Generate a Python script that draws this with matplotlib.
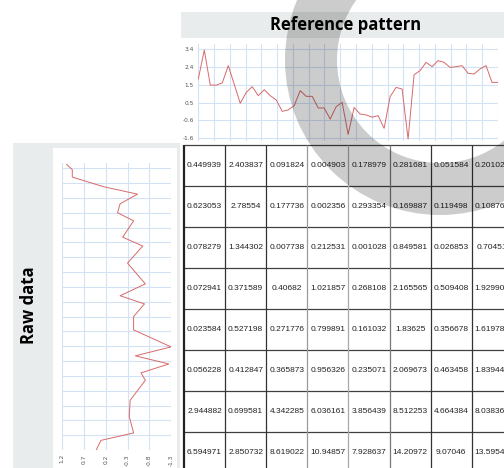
import numpy as np
import matplotlib
matplotlib.use("Agg")
import matplotlib.pyplot as plt
from matplotlib.patches import Rectangle, Wedge

W, H = 504, 468

# reference pattern (top chart), one value per step
ref_vals = [1.72, 3.34, 1.38, 1.38, 1.50, 2.47, 1.42, 0.36, 0.97, 1.29,
            0.79, 1.12, 0.79, 0.55, -0.09, -0.01, 0.23, 1.07, 0.75, 0.75,
            0.10, 0.10, -0.52, 0.17, 0.41, -1.38, 0.13, -0.24, -0.29, -0.42,
            -0.33, -1.04, 0.73, 1.25, 1.16, -1.64, 1.96, 2.19, 2.65, 2.41,
            2.75, 2.65, 2.37, 2.41, 2.47, 2.04, 2.00, 2.28, 2.47, 1.53, 1.53]
ref_ticks = [3.4, 2.4, 1.4, 0.4, -0.6, -1.6]
ref_ticklabels = ['3.4', '2.4', '1.5', '0.5', '-0.6', '-1.6']

# raw data (left chart, drawn rotated: time runs upward)
raw_t = [38.5, 37.8, 36.8, 35.5, 34.5, 33.2, 32.0, 30.9, 28.7, 27.5,
         25.2, 22.4, 20.8, 19.7, 18.0, 16.2, 13.9, 12.7, 11.6, 10.4,
         9.4, 6.7, 4.5, 2.3, 1.3, 0.0]
raw_v = [1.10, 0.97, 0.97, 0.25, -0.53, -0.13, -0.07, -0.44, -0.19, -0.65,
         -0.30, -0.71, -0.13, -0.69, -0.44, -0.44, -1.30, -0.48, -1.25, -0.61,
         -0.71, -0.36, -0.34, -0.44, 0.31, 0.42]
raw_ticks = [1.2, 0.7, 0.2, -0.3, -0.8, -1.3]
raw_ticklabels = ['1.2', '0.7', '0.2', '-0.3', '-0.8', '-1.3']

# distance table
table_rows = [
    ['0.449939', '2.403837', '0.091824', '0.004903', '0.178979', '0.281681', '0.051584', '0.201024'],
    ['0.623053', '2.78554', '0.177736', '0.002356', '0.293354', '0.169887', '0.119498', '0.108761'],
    ['0.078279', '1.344302', '0.007738', '0.212531', '0.001028', '0.849581', '0.026853', '0.70451'],
    ['0.072941', '0.371589', '0.40682', '1.021857', '0.268108', '2.165565', '0.509408', '1.929904'],
    ['0.023584', '0.527198', '0.271776', '0.799891', '0.161032', '1.83625', '0.356678', '1.619782'],
    ['0.056228', '0.412847', '0.365873', '0.956326', '0.235071', '2.069673', '0.463458', '1.839443'],
    ['2.944882', '0.699581', '4.342285', '6.036161', '3.856439', '8.512253', '4.664384', '8.038364'],
    ['6.594971', '2.850732', '8.619022', '10.94857', '7.928637', '14.20972', '9.07046', '13.59541'],
]
# column border shades, left to right
col_line_colors = ['#222222', '#333333', '#333333', '#9a9a9a', '#a8a8a8',
                   '#777777', '#333333', '#333333', '#333333']

LINE = '#d86a6a'
GRID = '#d3e2f4'
PANEL = '#e9ecec'


def box(x, y, w, h):
    # pixel box (top-left origin) -> figure fraction rect
    return [x / W, 1 - (y + h) / H, w / W, h / H]


fig = plt.figure(figsize=(W / 100, H / 100), dpi=100)
fig.patch.set_facecolor('white')

# background panels
for (x, y, w, h, c) in [(181, 12, 323, 26, PANEL), (13, 143, 167, 325, PANEL),
                        (53, 148, 124, 320, 'white')]:
    fig.add_artist(Rectangle((x / W, 1 - (y + h) / H), w / W, h / H,
                             transform=fig.transFigure, facecolor=c,
                             edgecolor='none', zorder=-5))

fig.text(346 / W, 1 - 25 / H, 'Reference pattern', ha='center', va='center',
         fontsize=12, fontweight='bold', family=['Open Sans', 'DejaVu Sans'])
fig.text(29 / W, 1 - 305 / H, 'Raw data', ha='center', va='center', rotation=90,
         fontsize=12, fontweight='bold', family=['Open Sans', 'DejaVu Sans'])

# --- reference pattern chart
ax = fig.add_axes(box(198.3, 44, 299.7, 97))
ax.plot(np.arange(len(ref_vals)), ref_vals, color=LINE, lw=0.7)
ax.set_xlim(0, 50)
ax.set_ylim(-1.75, 3.68)
ax.set_xticks(np.linspace(0, 50, 20))
ax.set_yticks(ref_ticks, labels=ref_ticklabels)
ax.grid(True, color=GRID, lw=0.8)
ax.set_axisbelow(True)
ax.tick_params(length=0, labelsize=4.2, labelcolor='#555555', pad=3)
ax.tick_params(axis='x', labelbottom=False)
for s in ax.spines.values():
    s.set_visible(False)

# --- raw data chart (rotated)
ax2 = fig.add_axes(box(62.3, 163, 108.7, 287))
ax2.plot(raw_v, raw_t, color=LINE, lw=0.7)
ax2.set_xlim(1.2, -1.3)
ax2.set_ylim(0, 38.7)
ax2.set_xticks(raw_ticks, labels=raw_ticklabels)
ax2.set_yticks(np.arange(0, 39, 2))
ax2.grid(True, color=GRID, lw=0.8)
ax2.set_axisbelow(True)
ax2.tick_params(length=0, labelsize=4.2, labelcolor='#555555', pad=3)
ax2.tick_params(axis='x', labelrotation=90)
ax2.tick_params(axis='y', labelleft=False)
for s in ax2.spines.values():
    s.set_visible(False)

# --- table
ax3 = fig.add_axes(box(184, 145, 8 * 41.1, 8 * 41))
ax3.set_xlim(0, 8)
ax3.set_ylim(8, 0)
ax3.axis('off')
tbl = ax3.table(cellText=table_rows, cellLoc='center', bbox=[0, 0, 1, 1])
tbl.auto_set_font_size(False)
tbl.set_fontsize(6.0)
for cell in tbl.get_celld().values():
    cell.visible_edges = ''
    cell.get_text().set_color('#222222')
    cell.get_text().set_fontfamily(['Liberation Sans', 'DejaVu Sans'])
ax3.hlines(np.arange(9), 0, 8, colors='#404040', lw=0.9, clip_on=False)
ax3.vlines(np.arange(9), 0, 8, colors=col_line_colors,
           lw=[1.6] + [0.9] * 8, clip_on=False)

# --- gray arc overlay (centre and radii in inches from bottom-left)
arc = Wedge((4.40, (H - 60) / 100), 1.55, 0, 360, width=0.52,
            transform=fig.dpi_scale_trans, facecolor='black', alpha=0.2,
            edgecolor='none', zorder=10)
fig.add_artist(arc)

fig.savefig('out.png', dpi=100)
